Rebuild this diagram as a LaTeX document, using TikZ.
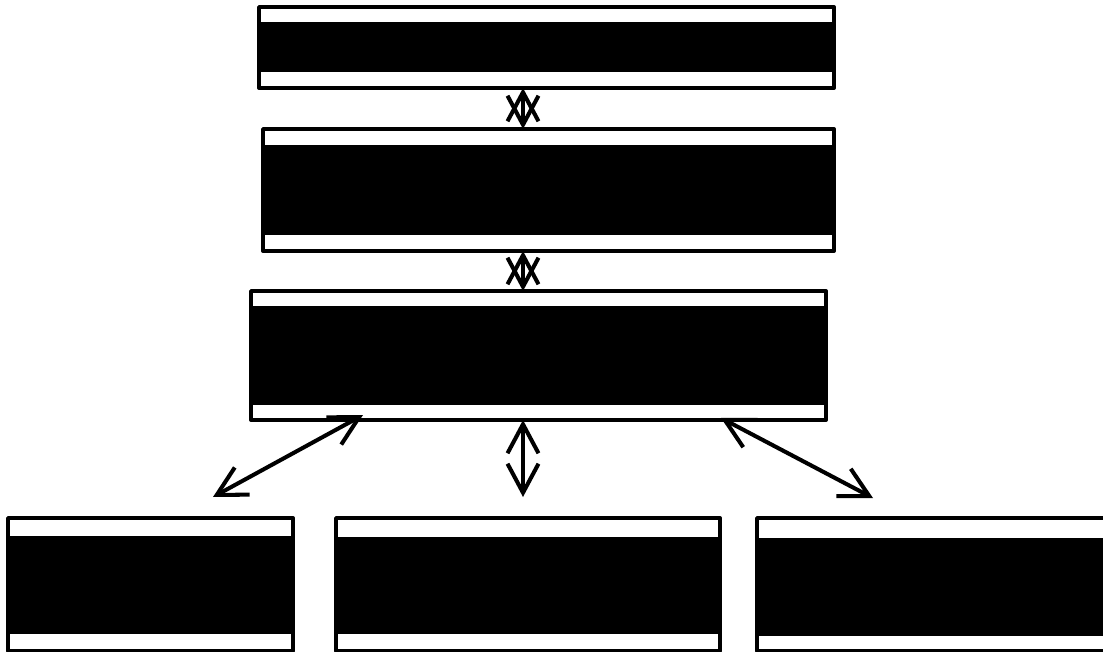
\documentclass[tikz,border=0pt]{standalone}
\usetikzlibrary{arrows.meta}

\begin{document}
\begin{tikzpicture}[x=0.02cm,y=-0.02cm,line cap=round,line join=round,
  panel/.style={draw,line width=2.2pt,inner sep=0pt,outer sep=0pt,anchor=north west},
  link/.style={line width=2.3pt,{Straight Barb[length=0.58cm,width=0.62cm]}-{Straight Barb[length=0.58cm,width=0.62cm]}}]
  \useasboundingbox (0,0) rectangle (1103,652);
  \clip (0,0) rectangle (1103,652);
  % panels: name / left / top / right / bottom / band top / band bottom
  \foreach \nm/\xa/\ya/\xb/\yb/\ta/\tb in {top/259/7/834/88/22/72,mid/263/129/834/251/145/235,hub/251/291/826/420/306/405,
      left/8/518/293/651/536/634,centre/336/518/720/651/537/634,right/757/518/1110/651/538/636}{
    \node[panel,minimum width={(\xb-\xa)*0.02cm},minimum height={(\yb-\ya)*0.02cm}] (\nm) at (\xa,\ya) {};
    \fill (\xa,\ta) rectangle (\xb,\tb);
  }
  \coordinate (ax) at (523,0);
  \coordinate (hubL) at (363,415);
  \coordinate (hubR) at (721,418);
  \coordinate (endL) at (213,497);
  \coordinate (endC) at (523,497);
  \coordinate (endR) at (873,498);
  \draw[link] (top.south -| ax) -- (mid.north -| ax);
  \draw[link] (mid.south -| ax) -- (hub.north -| ax);
  \draw[link] (hub.south -| ax) -- (endC);
  \draw[link] (hubL) -- (endL);
  \draw[link] (hubR) -- (endR);
\end{tikzpicture}
\end{document}
